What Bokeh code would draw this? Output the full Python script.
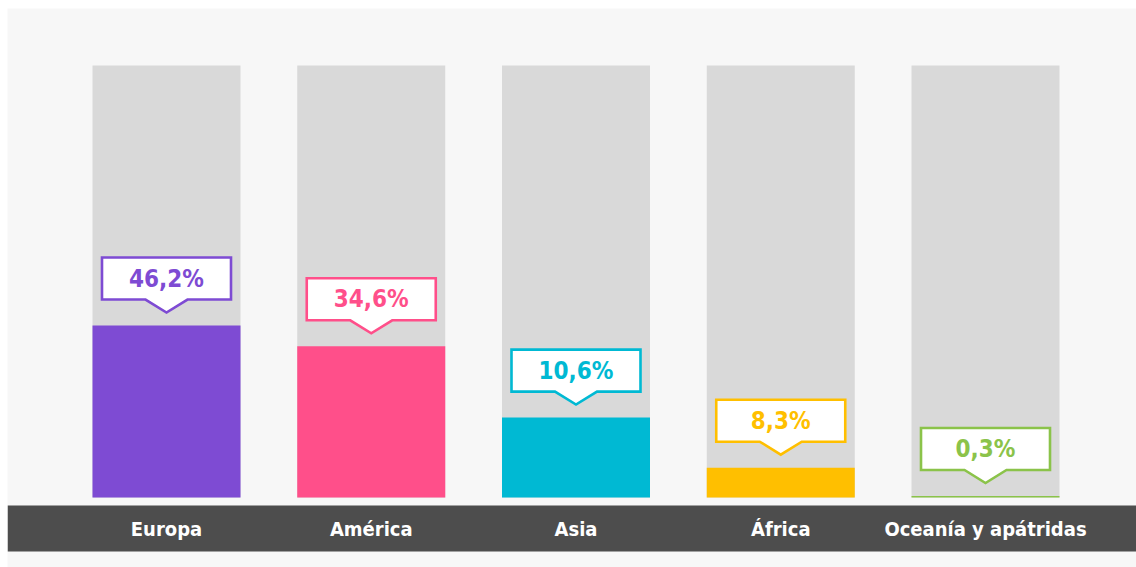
from bokeh.plotting import figure
from bokeh.models import Range1d, BoxAnnotation, ColumnDataSource
from bokeh.core.properties import value
from bokeh.embed import file_html
from bokeh.resources import INLINE

# ---- data ----
categories = ["Europa", "América", "Asia", "África", "Oceanía y apátridas"]
value_labels = ["46,2%", "34,6%", "10,6%", "8,3%", "0,3%"]
bar_levels = [39.8, 35.0, 18.5, 6.9, 0.35]   # displayed fill level (column = 100)
column_max = 100
colors = ["#7e4bd3", "#ff4f8a", "#00b9d3", "#ffbf00", "#8bc34a"]

FONT = "DejaVu Sans Condensed"
PX = 4.32          # pixels per y unit
XPX = 204.75       # pixels per x unit

p = figure(width=1136, height=567, output_backend="svg", toolbar_location=None,
           x_axis_type=None, y_axis_type=None,
           x_range=Range1d(-159 / XPX, 4 + 151 / XPX),
           y_range=Range1d(-70 / PX, 489 / PX),
           min_border_left=7, min_border_right=0, min_border_top=8, min_border_bottom=0)
p.border_fill_color = "white"
p.background_fill_color = "#f7f7f7"
p.outline_line_color = None

xs = list(range(len(categories)))
bw = 148 / XPX

# gray columns
p.vbar(x=xs, top=[column_max] * len(xs), bottom=0, width=bw, fill_color="#d9d9d9", line_color=None)
# colored fills
p.vbar(x=xs, top=bar_levels, bottom=0, width=bw, fill_color=colors, line_color=None)

# dark category band
p.add_layout(BoxAnnotation(bottom=-54 / PX, top=-8 / PX, fill_color="#4d4d4d", fill_alpha=1, line_color=None, level="underlay"))

# callout boxes
hw = 64.5 / XPX
pw = 21 / XPX
bx, by = [], []
for x, lvl in zip(xs, bar_levels):
    tip = lvl + 13 / PX
    bot = lvl + 26 / PX
    top = lvl + 68 / PX
    bx.append([x - hw, x + hw, x + hw, x + pw, x, x - pw, x - hw])
    by.append([top, top, bot, bot, tip, bot, bot])
p.patches(xs=bx, ys=by, fill_color="white", line_color=colors, line_width=2.6, line_join="miter")

src = ColumnDataSource(dict(x=xs, y=[l + 47 / PX for l in bar_levels], t=value_labels, c=colors))
p.text(x="x", y="y", text="t", source=src, text_color="c", text_align="center",
       text_baseline="middle", text_font=value(FONT), text_font_style="bold", text_font_size="24px")

src2 = ColumnDataSource(dict(x=xs, y=[-31 / PX] * len(xs), t=categories))
p.text(x="x", y="y", text="t", source=src2, text_color="white", text_align="center",
       text_baseline="middle", text_font=value(FONT), text_font_style="bold", text_font_size="20px")

open("out.html", "w").write(file_html(p, INLINE))
